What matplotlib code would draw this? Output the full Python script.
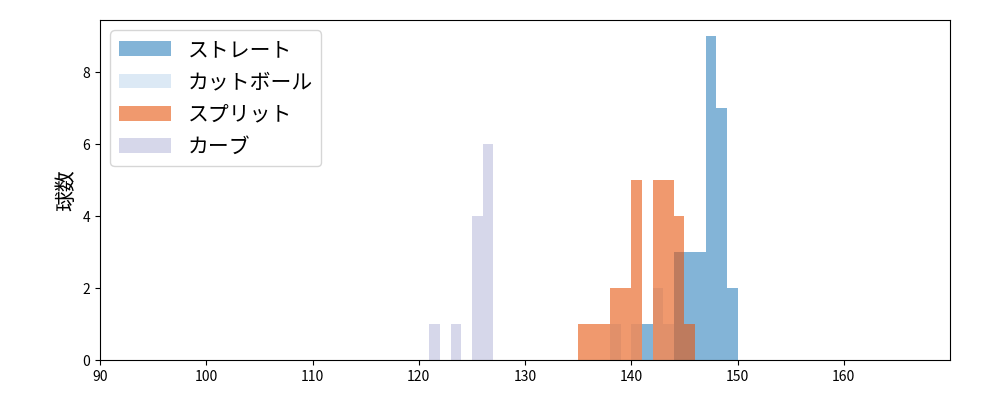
import matplotlib
matplotlib.use("Agg")
import matplotlib.pyplot as plt

plt.rcParams['font.family'] = ['Noto Sans CJK JP', 'DejaVu Sans']

names = ['ストレート', 'カットボール', 'スプリット', 'カーブ']
colors = ['#3182bd', '#c6dbef', '#e6550d', '#bcbddc']

straight_edges = [141, 142, 143, 144, 145, 146, 147, 148, 149]
straight_counts = [1, 0, 0, 3, 3, 3, 9, 7, 2]
cutter_edges = [138, 140, 142, 143]
cutter_counts = [1, 1, 2, 1]
split_edges = [135, 136, 137, 138, 139, 140, 141, 142, 143, 144, 145]
split_counts = [1, 1, 1, 2, 2, 5, 0, 5, 5, 4, 1]
curve_edges = [121, 123, 125, 126]
curve_counts = [1, 1, 4, 6]

series = [(straight_edges, straight_counts), (cutter_edges, cutter_counts),
          (split_edges, split_counts), (curve_edges, curve_counts)]

fig = plt.figure(figsize=(10, 4), dpi=100)
ax = fig.add_axes([0.1, 0.1, 0.85, 0.85])
for (e, c), n, col in zip(series, names, colors):
    ax.bar(e, c, width=1, align='edge', color=col, alpha=0.6, label=n, linewidth=0)

ax.set_xlim(90, 170)
ax.set_ylim(0, 9.45)
ax.set_xticks(range(90, 170, 10))
ax.set_yticks([0, 2, 4, 6, 8])
ax.set_ylabel('球数', fontsize=15)
ax.legend(loc='upper left', fontsize=15, handlelength=2.5)
fig.savefig('out.png')
